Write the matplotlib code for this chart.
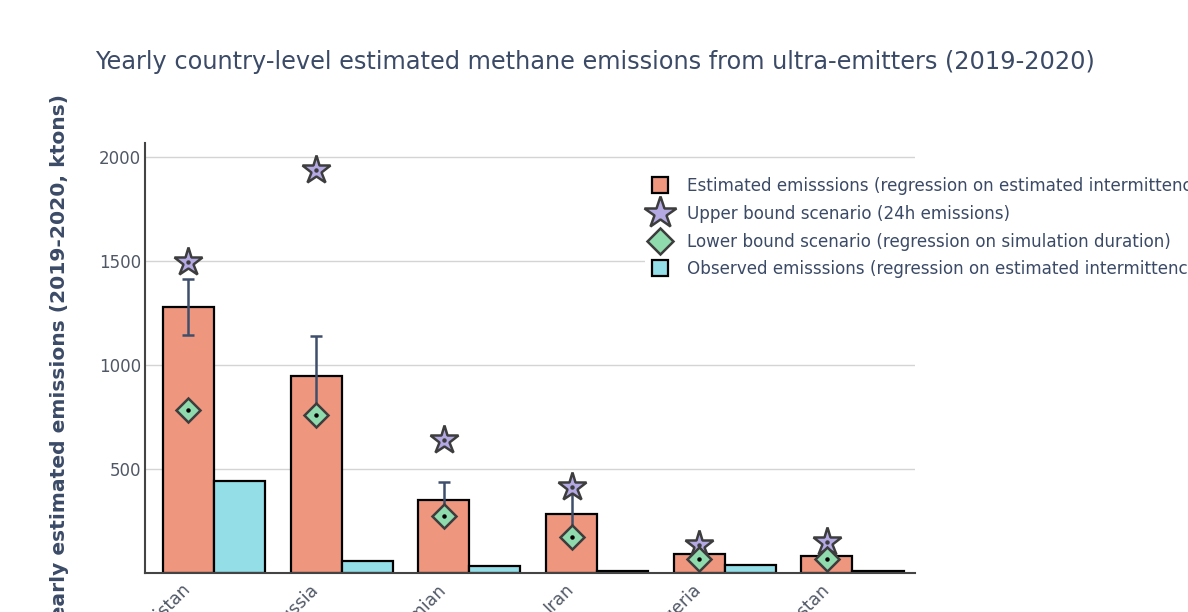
import matplotlib
matplotlib.use("Agg")
import matplotlib.pyplot as plt
from matplotlib.lines import Line2D
from matplotlib.transforms import ScaledTranslation
import numpy as np

plt.rcParams["font.family"] = ["DejaVu Sans"]

# Data (ktons per year, 2019-2020)
countries = ["Turkmenistan", "Russia", "Permian", "Iran", "Algeria", "Kazakhstan"]
estimated = [1279, 947, 351, 284, 91, 82]
estimated_err = [135, 190, 88, 125, 25, 20]
observed = [442, 58, 34, 10, 38, 10]
upper_bound = [1495, 1938, 640, 413, 135, 149]
lower_bound = [784, 760, 274, 173, 67, 67]

legend_labels = [
    "Estimated emisssions (regression on estimated intermittency)",
    "Upper bound scenario (24h emissions)",
    "Lower bound scenario (regression on simulation duration)",
    "Observed emisssions (regression on estimated intermittency)",
]

# Styling
C_EST = "#EF967F"
C_OBS = "#94DEE8"
C_STAR = "#B5A9E3"
C_DIAM = "#90DBAD"
C_EDGE = "#3d3d3d"
C_TEXT = "#3b4a66"
C_TICK = "#505866"
C_ERR = "#3f4f6b"

W, H = 1188, 612
fig = plt.figure(figsize=(W / 100, H / 100), dpi=100)
fig.patch.set_facecolor("white")

ax = fig.add_axes([145 / W, 39 / H, 770 / W, 430 / H])
x = np.arange(len(countries))
bw = 0.4

ax.bar(x - bw / 2, estimated, width=bw, color=C_EST, edgecolor="black",
       linewidth=1.6, zorder=2)
ax.bar(x + bw / 2, observed, width=bw, color=C_OBS, edgecolor="black",
       linewidth=1.6, zorder=2)
ax.errorbar(x - bw / 2, estimated, yerr=estimated_err, fmt="none",
            ecolor=C_ERR, elinewidth=1.8, capsize=4.5, capthick=1.8, zorder=3)

ax.plot(x - bw / 2, upper_bound, linestyle="none", marker="*", markersize=21,
        markerfacecolor=C_STAR, markeredgecolor=C_EDGE, markeredgewidth=1.8,
        zorder=4)
ax.plot(x - bw / 2, upper_bound, linestyle="none", marker="o", markersize=2.2,
        color=C_EDGE, zorder=5)
ax.plot(x - bw / 2, lower_bound, linestyle="none", marker="D", markersize=12,
        markerfacecolor=C_DIAM, markeredgecolor=C_EDGE, markeredgewidth=1.8,
        zorder=4)
ax.plot(x - bw / 2, lower_bound, linestyle="none", marker="o", markersize=2.2,
        color="black", zorder=5)

ax.set_xlim(-0.54, 5.49)
ax.set_ylim(0, 2067)
ax.set_yticks([500, 1000, 1500, 2000])
ax.set_yticklabels(["500", "1000", "1500", "2000"])
ax.yaxis.grid(True, color="#d4d4d4", linewidth=1)
ax.set_axisbelow(True)

ax.set_xticks(x)
ax.set_xticklabels(countries, rotation=45, ha="right", va="center",
                   rotation_mode="anchor")
ax.tick_params(axis="x", length=0, pad=10, labelsize=12.5, labelcolor=C_TICK)
shift = ScaledTranslation(-26 / 100, 0, fig.dpi_scale_trans)
for lbl in ax.get_xticklabels():
    lbl.set_transform(lbl.get_transform() + shift)
ax.tick_params(axis="y", length=0, pad=3, labelsize=12, labelcolor=C_TICK)

for s in ("top", "right"):
    ax.spines[s].set_visible(False)
for s in ("left", "bottom"):
    ax.spines[s].set_color("#444444")
    ax.spines[s].set_linewidth(1.5)

fig.text(95 / W, (H - 69) / H,
         "Yearly country-level estimated methane emissions from ultra-emitters (2019-2020)",
         fontsize=17.3, color=C_TEXT, va="baseline", ha="left")

fig.text(60 / W, (H - 94) / H,
         "Yearly estimated emissions (2019-2020, ktons)",
         rotation=90, fontsize=14.6, fontweight="bold", color=C_TEXT,
         ha="center", va="top")

handles = [
    Line2D([], [], linestyle="none", marker="s", markersize=12,
           markerfacecolor=C_EST, markeredgecolor="black", markeredgewidth=1.6),
    Line2D([], [], linestyle="none", marker="*", markersize=24,
           markerfacecolor=C_STAR, markeredgecolor=C_EDGE, markeredgewidth=1.8),
    Line2D([], [], linestyle="none", marker="D", markersize=13,
           markerfacecolor=C_DIAM, markeredgecolor=C_EDGE, markeredgewidth=1.8),
    Line2D([], [], linestyle="none", marker="s", markersize=12,
           markerfacecolor=C_OBS, markeredgecolor="black", markeredgewidth=1.6),
]
leg = ax.legend(handles, legend_labels, loc="upper left",
                bbox_to_anchor=(645 / W, (H - 172) / H),
                bbox_transform=fig.transFigure, frameon=True,
                facecolor="white", edgecolor="none", framealpha=1,
                fontsize=12.1, labelcolor=C_TEXT, handlelength=1.2,
                handletextpad=1.0, labelspacing=0.58, borderpad=0.3,
                borderaxespad=0)
leg.set_zorder(10)

fig.savefig("out.png", dpi=100)
